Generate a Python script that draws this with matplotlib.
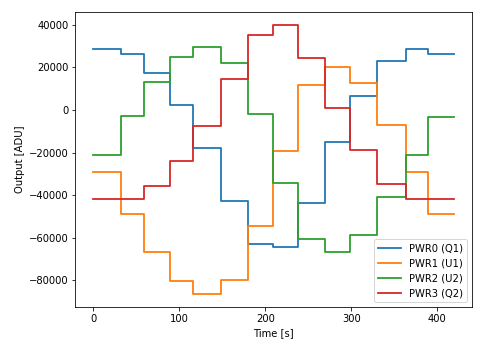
import numpy as np
import matplotlib.pyplot as plt

# step edges in seconds
t_edges = [0, 32, 59, 89, 116, 149, 180, 209, 238, 269, 299, 330, 364, 389, 420]

# level of each channel between the edges [ADU]
pwr0 = [28700, 26500, 17300, 2200, -17700, -43000, -63000, -64400, -43500, -15000, 6500, 23000, 28700, 26300]
pwr1 = [-29000, -48800, -66800, -80200, -86300, -79800, -54500, -19300, 11700, 20000, 12500, -6900, -29000, -48800]
pwr2 = [-21100, -3000, 13000, 25000, 29400, 22000, -1900, -34300, -60700, -66600, -58800, -41000, -21300, -3400]
pwr3 = [-41800, -42000, -35800, -24200, -7700, 14500, 35100, 39800, 24500, 700, -18800, -34800, -42000, -42000]

labels = ['PWR0 (Q1)', 'PWR1 (U1)', 'PWR2 (U2)', 'PWR3 (Q2)']

fig = plt.figure(figsize=(483/72, 347/72), dpi=72)
ax = fig.add_axes([0.156, 0.115, 0.822, 0.851])

for lev, lab in zip([pwr0, pwr1, pwr2, pwr3], labels):
    ax.step(t_edges, lev + [lev[-1]], where='post', label=lab, lw=1.8)

ax.legend(loc='lower right', handlelength=2.3)
ax.set_xlabel('Time [s]')
ax.set_ylabel('Output [ADU]')
fig.savefig('out.png', dpi=72)
